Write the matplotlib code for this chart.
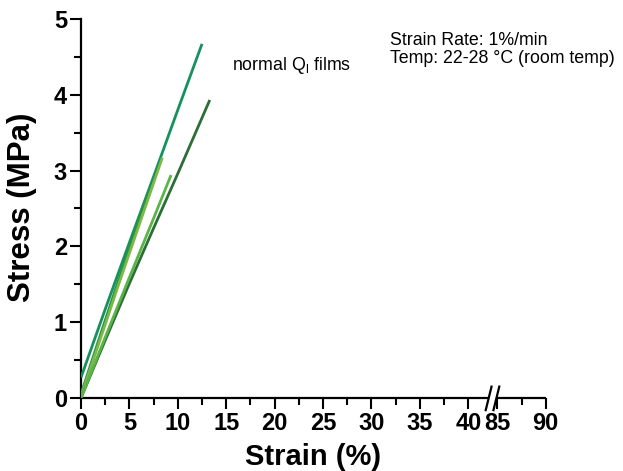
import matplotlib
matplotlib.use("Agg")
import matplotlib.pyplot as plt
from matplotlib.ticker import MultipleLocator, FixedLocator

plt.rcParams["font.family"] = ["Liberation Sans", "DejaVu Sans"]

# stress-strain curves (strain in %, stress in MPa)
strain_a = [0.0, 2.5, 5.0, 7.5, 10.0, 12.5]
stress_a = [0.27, 1.17, 2.05, 2.92, 3.80, 4.67]

strain_b = [0.0, 2.0, 4.0, 6.0, 7.0]
stress_b = [0.05, 0.83, 1.60, 2.36, 2.73]

strain_c = [0.0, 2.0, 4.0, 6.0, 8.4]
stress_c = [0.02, 0.78, 1.54, 2.28, 3.17]

strain_d = [0.0, 2.5, 5.0, 7.5, 10.0, 13.3]
stress_d = [0.0, 0.76, 1.51, 2.24, 2.96, 3.93]

strain_e = [0.0, 2.5, 5.0, 7.5, 9.3]
stress_e = [0.0, 0.80, 1.59, 2.37, 2.94]

colors = ["#15915c", "#23954a", "#7cb843", "#2b6f36", "#5ab447"]

# broken x axis: 0-40, then 85-90 placed right after the gap
x_tick_labels = ["0", "5", "10", "15", "20", "25", "30", "35", "40", "85", "90"]
x_tick_pos = [0, 5, 10, 15, 20, 25, 30, 35, 40, 43, 48]

fig = plt.figure(figsize=(6.23, 4.71), dpi=100)
ax = fig.add_axes([0.130, 0.155, 0.746, 0.805])

series = [(strain_a, stress_a), (strain_b, stress_b), (strain_c, stress_c),
          (strain_d, stress_d), (strain_e, stress_e)]
order = [1, 0, 3, 4, 2]
for i in order:
    xs, ys = series[i]
    ax.plot(xs, ys, color=colors[i], linewidth=2.0, solid_capstyle="butt", zorder=3 + i)

ax.set_xlim(0, 48)
ax.set_ylim(0, 5)

for side in ["top", "right"]:
    ax.spines[side].set_visible(False)
ax.spines["left"].set_linewidth(1.6)
ax.spines["bottom"].set_linewidth(1.6)
ax.spines["bottom"].set_bounds(0, 42.0)
ax.plot([42.9, 48], [0, 0], color="black", linewidth=1.6, clip_on=False,
        solid_capstyle="butt", zorder=10)
# break marks
for x0 in [41.8, 42.6]:
    ax.plot([x0, x0 + 0.6], [-0.16, 0.15], color="black", linewidth=1.6,
            clip_on=False, zorder=11)

ax.xaxis.set_major_locator(FixedLocator(x_tick_pos))
ax.set_xticklabels(x_tick_labels)
ax.xaxis.set_minor_locator(FixedLocator([2.5, 7.5, 12.5, 17.5, 22.5, 27.5, 32.5, 37.5, 45.5]))
ax.yaxis.set_major_locator(MultipleLocator(1))
ax.yaxis.set_minor_locator(MultipleLocator(0.5))

ax.tick_params(which="major", direction="out", length=8, width=1.5,
               labelsize=17, pad=2)
ax.tick_params(which="minor", direction="out", length=5, width=1.5)
for lab in ax.get_xticklabels() + ax.get_yticklabels():
    lab.set_fontweight("bold")

ax.set_xlabel("Strain (%)", fontsize=21, fontweight="bold")
ax.set_ylabel("Stress (MPa)", fontsize=22.5, fontweight="bold")
ax.xaxis.set_label_coords(0.5, -0.118)
ax.yaxis.set_label_coords(-0.095, 0.504)

ax.text(0.325, 0.878, r"normal Q$_\mathregular{l}$ films", transform=ax.transAxes,
        fontsize=12.8, va="center", ha="left")
ax.text(0.665, 0.943, "Strain Rate: 1%/min", transform=ax.transAxes,
        fontsize=12.8, va="center", ha="left")
ax.text(0.665, 0.895, "Temp: 22-28 \u00b0C (room temp)", transform=ax.transAxes,
        fontsize=12.8, va="center", ha="left")

fig.savefig("out.png", dpi=100)
